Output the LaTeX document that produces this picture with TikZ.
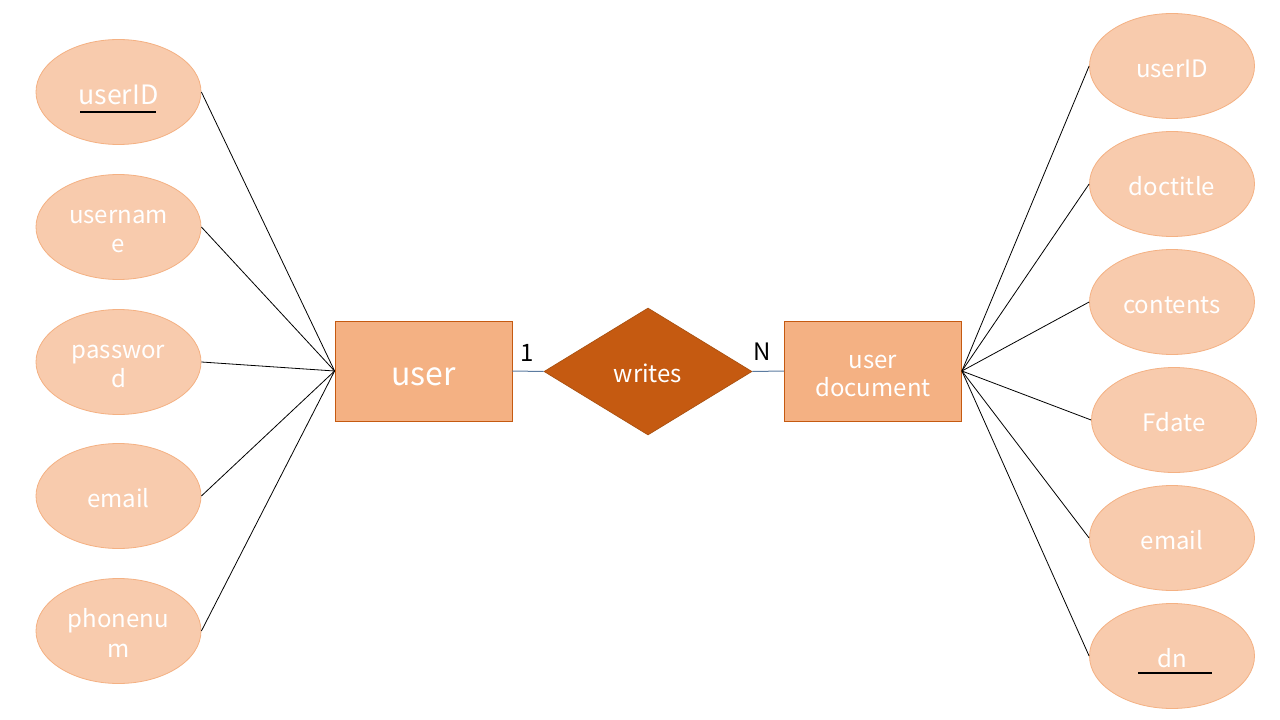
\documentclass[tikz,border=0pt]{standalone}
\usepackage{fontspec}
\setmainfont{Noto Sans CJK KR}
\usetikzlibrary{shapes.geometric}
\definecolor{attrfill}{HTML}{F8CBAD}
\definecolor{attrline}{HTML}{F4B183}
\definecolor{entfill}{HTML}{F4B183}
\definecolor{entline}{HTML}{C55A11}
\definecolor{relfill}{HTML}{C55A11}
\definecolor{relline}{HTML}{A9500F}
\definecolor{linkblue}{HTML}{5B7BA0}
\newcommand{\topgap}{\rule{0pt}{17pt}}
\tikzset{
  attr/.style={ellipse, fill=attrfill, draw=attrline, line width=0.6pt,
    minimum width=123.75pt, minimum height=78.75pt, inner sep=0pt,
    text=white, align=center, font=\fontsize{18}{22}\selectfont},
  entity/.style={rectangle, fill=entfill, draw=entline, line width=0.6pt,
    minimum width=132.75pt, minimum height=75pt, inner sep=0pt,
    text=white, align=center, font=\fontsize{18}{21}\selectfont},
  rel/.style={diamond, fill=relfill, draw=relline, line width=0.5pt,
    minimum width=156pt, minimum height=95.25pt, inner sep=0pt, aspect=1.64,
    text=white, font=\fontsize{18}{22}\selectfont},
  link/.style={draw=black, line width=0.6pt},
  rlink/.style={draw=linkblue, line width=0.75pt},
  card/.style={text=black, font=\fontsize{18}{22}\selectfont, inner sep=0pt},
  keyline/.style={draw=black, line width=1.6pt}
}
\begin{document}
\begin{tikzpicture}[x=0.75pt, y=-0.75pt]
\useasboundingbox (0,0) rectangle (1280,720);
\fill[white] (0,0) rectangle (1280,720);

% entities and relationship
\node[entity, font=\fontsize{24}{28}\selectfont] (user) at (423.5,371) {\rule{0pt}{22pt}user};
\node[rel] (writes) at (648,371.5) {\rule{0pt}{16pt}writes};
\node[entity] (doc) at (873,371) {\topgap user\\document};

% attributes of user
\node[attr, font=\fontsize{20}{24}\selectfont] (u1) at (118.5,92) {\rule{0pt}{19pt}userID};
\node[attr] (u2) at (118.5,227) {\topgap usernam\\e};
\node[attr] (u3) at (118.5,362) {\topgap passwor\\d};
\node[attr] (u4) at (118.5,496) {\topgap email};
\node[attr] (u5) at (118.5,631) {\topgap phonenu\\m};

% attributes of user document
\node[attr] (d1) at (1172,66) {\topgap userID};
\node[attr] (d2) at (1172,184) {\topgap doctitle};
\node[attr] (d3) at (1172,302) {\topgap contents};
\node[attr] (d4) at (1174,420) {\topgap Fdate};
\node[attr] (d5) at (1172,538) {\topgap email};
\node[attr] (d6) at (1172,656) {\topgap dn};

% key underlines
\coordinate (k1a) at (80,112); \coordinate (k1b) at (156,112);
\draw[keyline] (k1a) -- (k1b);
\coordinate (k2a) at (1138,673); \coordinate (k2b) at (1212,673);
\draw[keyline] (k2a) -- (k2b);

% attribute connectors
\foreach \a in {u1,u2,u3,u4,u5}
  \draw[link] (\a.east) -- (user.west);
\foreach \a in {d1,d2,d3,d4,d5,d6}
  \draw[link] (\a.west) -- (doc.east);

% relationship connectors
\draw[rlink] (user.east) -- (writes.west);
\draw[rlink] (writes.east) -- (doc.west);

% cardinalities
\node[card] (c1) at (527,353) {1};
\node[card] (cn) at (762,352) {N};
\end{tikzpicture}
\end{document}
